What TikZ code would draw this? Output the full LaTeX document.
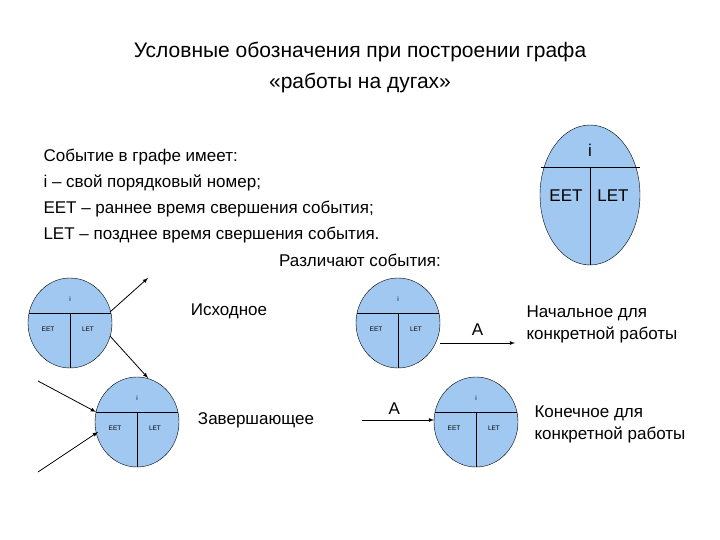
\documentclass[tikz,border=0pt]{standalone}
\usepackage{fontspec}
\setmainfont{Liberation Sans}
\begin{document}
\begin{tikzpicture}[x=1pt,y=-1pt,
  arr/.style={-latex,thick},
  tiny/.style={font=\fontsize{6.5}{7}\selectfont},
  txt/.style={font=\fontsize{17}{26}\selectfont},
  txt2/.style={font=\fontsize{17}{22}\selectfont}]
\useasboundingbox (0,0) rectangle (720,540);
\definecolor{evc}{RGB}{160,200,240}
\node[font=\fontsize{21}{31}\selectfont,align=center] (title) at (360,67) {Условные обозначения при построении графа\\«работы на дугах»};
\node[txt,align=left,anchor=west] (body) at (40,196) {Событие в графе имеет:\\ i – свой порядковый номер;\\ EET – раннее время свершения события;\\ LET – позднее время свершения события.};
\node[txt] (diff) at (360,260) {Различают события:};
% big
\filldraw[fill=evc,draw=black] (590,195) ellipse (50 and 70);
\draw (540.5,167) -- (639.5,167);
\draw (590,167) -- (590,265);
\node[txt] (bi) at (590,150) {i};
\node[txt] (be) at (566,196) {EET};
\node[txt] (bl) at (613,196) {LET};
% small events
\foreach \n/\cx/\cy in {e1/70/323, e2/398/323, e3/137/422, e4/476/422}{
  \filldraw[fill=evc,draw=black] (\cx,\cy) ellipse (42 and 45);
  \node[coordinate] (\n) at (\cx,\cy) {};
}
\foreach \cx/\cy in {70/323, 398/323, 137/422, 476/422}{
  \pgfmathsetmacro{\ly}{\cy-10}
  \pgfmathsetmacro{\hw}{42*sqrt(1-(10/45)^2)}
  \draw (\cx-\hw,\ly) -- (\cx+\hw,\ly);
  \draw (\cx,\ly) -- (\cx,\cy+45);
  \node[tiny] at (\cx,\ly-14) {i};
  \node[tiny] at (\cx-22,\ly+16) {EET};
  \node[tiny] at (\cx+18,\ly+16) {LET};
}
\coordinate (o1) at (148,278); \coordinate (o2) at (148,378);
\draw[arr] (110,312) -- (o1);
\draw[arr] (110,336) -- (o2);
\coordinate (a2) at (515,343);
\draw[arr] (440,343) -- node[above=4pt,txt]{A} (a2);
\coordinate (i1) at (38,381); \coordinate (i2) at (38,472);
\draw[arr] (i1) -- (96,412);
\draw[arr] (i2) -- (98,432);
\coordinate (a4) at (362,420);
\draw[arr] (a4) -- node[above=2pt,pos=0.45,txt]{A} (434,420);
\node[txt] (t1) at (229,311) {Исходное};
\node[txt] (t2) at (256,420) {Завершающее};
\node[txt2,align=left,anchor=west] (t3) at (523,324) {Начальное для\\конкретной работы};
\node[txt2,align=left,anchor=west] (t4) at (531,424) {Конечное для\\конкретной работы};
\end{tikzpicture}
\end{document}
